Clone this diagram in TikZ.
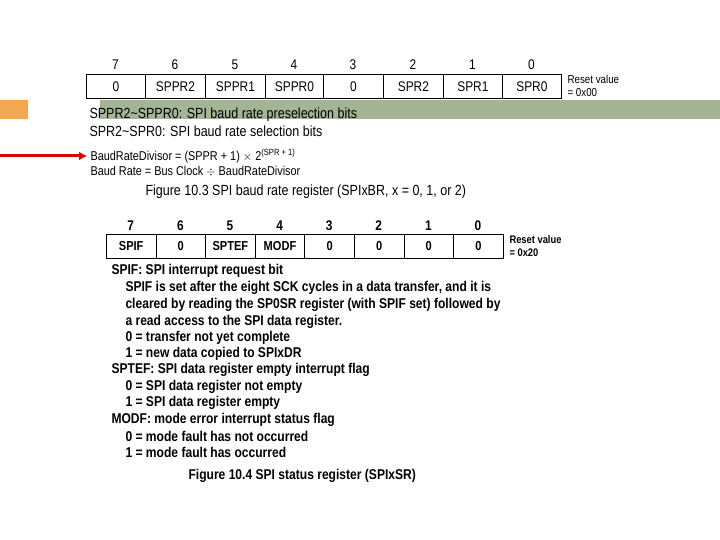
\documentclass[tikz,border=0pt]{standalone}
\usepackage{fontspec}
\usetikzlibrary{arrows.meta}
\setmainfont{Liberation Sans}[FakeStretch=0.85]
\definecolor{barg}{RGB}{164,180,148}
\definecolor{baro}{RGB}{242,168,80}
\begin{document}
\begin{tikzpicture}[x=1pt,y=-1pt,
 cell/.style={draw,line width=0.8pt,minimum height=24pt,inner sep=0pt,anchor=north west,font=\fontsize{14}{14}\selectfont},
 bit/.style={font=\fontsize{14}{14}\selectfont},
 small/.style={font=\fontsize{11.5}{13}\selectfont,anchor=west,align=left},
 txt/.style={anchor=west,font=\fontsize{14.7}{14.7}\selectfont}]
\useasboundingbox (0,0) rectangle (720,540);
\fill[white] (0,0) rectangle (720,540);
% bars
\fill[baro] (0,100) rectangle (28,119);
\fill[barg] (100,100) rectangle (720,119);
% register 1
\foreach \x/\w/\t [count=\i] in {86/59/0,145/60/SPPR2,205/60/SPPR1,265/58/SPPR0,323/60/0,383/60/SPR2,443/59/SPR1,502/59/SPR0}{
 \node[cell,minimum width=\w pt] (a\i) at (\x,74) {\t};
 \pgfmathtruncatemacro\b{8-\i}
 \node[bit] (an\i) at (\x+\w/2,65) {\b};
}
\node[small] (r1) at (564,86) {Reset value\\= 0x00};
\node[txt] (t1) at (86,115) {SPPR2\textasciitilde SPPR0: SPI baud rate preselection bits};
\node[txt] (t2) at (86,131) {SPR2\textasciitilde SPR0: SPI baud rate selection bits};
\node[anchor=west,font=\fontsize{12.8}{12.8}\selectfont] (t3) at (87,156) {BaudRateDivisor = (SPPR + 1) $\times$ 2\textsuperscript{(SPR + 1)}};
\node[anchor=west,font=\fontsize{12.8}{12.8}\selectfont] (t4) at (87,171) {Baud Rate = Bus Clock $\div$ BaudRateDivisor};
\coordinate (s) at (0,156);
\draw[red!85!black,line width=3pt,-{Latex[length=8pt,width=9pt]}] (s) -- (t3.west);
\node[txt] (c1) at (142,192) {Figure 10.3 SPI baud rate register (SPIxBR, x = 0, 1, or 2)};
% register 2
\foreach \x/\t [count=\i] in {106/SPIF,155.6/0,205.2/SPTEF,254.8/MODF,304.4/0,354/0,403.6/0,453.2/0}{
 \node[cell,minimum width=49.6pt,font=\bfseries\fontsize{13}{13}\selectfont] (b\i) at (\x,234) {\t};
 \pgfmathtruncatemacro\b{8-\i}
 \node[bit,font=\bfseries\fontsize{14}{14}\selectfont] (bn\i) at (\x+24.8,226) {\b};
}
\node[small,font=\bfseries\fontsize{11}{13}\selectfont] (r2) at (506,246) {Reset value\\= 0x20};
\begin{scope}[every node/.style={anchor=west,font=\bfseries\fontsize{14.2}{14.2}\selectfont}]
\node (l1) at (108,271) {SPIF: SPI interrupt request bit};
\node (l2) at (122,288) {SPIF is set after the eight SCK cycles in a data transfer, and it is};
\node (l3) at (122,305) {cleared by reading the SP0SR register (with SPIF set) followed by};
\node (l4) at (122,322) {a read access to the SPI data register.};
\node (l5) at (122,338) {0 = transfer not yet complete};
\node (l6) at (122,354) {1 = new data copied to SPIxDR};
\node (l7) at (108,370) {SPTEF: SPI data register empty interrupt flag};
\node (l8) at (122,387) {0 = SPI data register not empty};
\node (l9) at (122,403) {1 = SPI data register empty};
\node (l10) at (108,420) {MODF: mode error interrupt status flag};
\node (l11) at (122,436) {0 = mode fault has not occurred};
\node (l12) at (122,452) {1 = mode fault has occurred};
\node (c2) at (185,476) {Figure 10.4 SPI status register (SPIxSR)};
\end{scope}
\end{tikzpicture}
\end{document}
